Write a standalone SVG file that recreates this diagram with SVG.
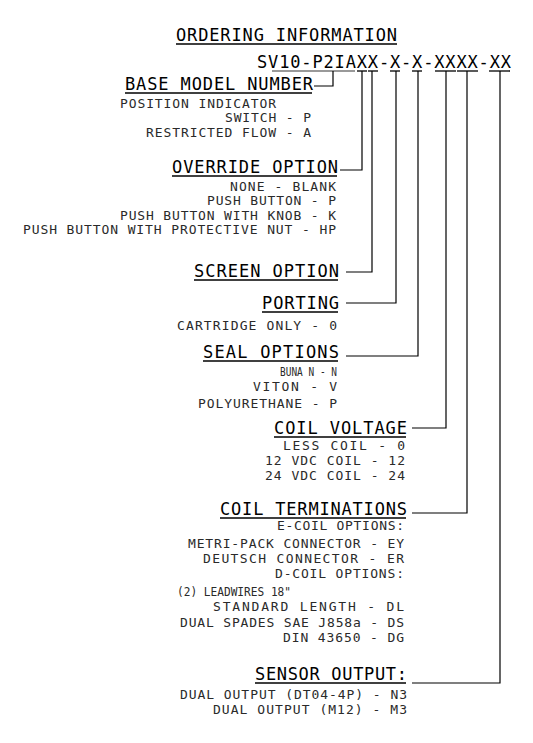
<svg xmlns="http://www.w3.org/2000/svg" width="533" height="743" viewBox="0 0 533 743">
<style>
text{font-family:"DejaVu Sans Mono","Liberation Mono",monospace;}
.h{font-size:17px;fill:#000;}
.b{font-size:13px;fill:#2a2a2a;}
.u{stroke:#000;stroke-width:1.3;fill:none;}
.ug{stroke:#777;stroke-width:1.3;fill:none;}
.c{stroke:#000;stroke-width:1.2;fill:none;}
</style>
<rect width="533" height="743" fill="#fff"/>
<g id="title">
<text class="h" x="176" y="41" textLength="221" lengthAdjust="spacing">ORDERING INFORMATION</text>
<line class="u" x1="176" y1="44" x2="397" y2="44"/>
</g>
<g id="part-number">
<text class="h" x="257" y="68" textLength="254" lengthAdjust="spacing">SV10-P2IAXX-X-X-XXXX-XX</text>
<line class="ug" x1="272" y1="71" x2="355" y2="71"/>
<line class="u" x1="357" y1="71" x2="367" y2="71"/>
<line class="u" x1="368" y1="71" x2="378" y2="71"/>
<line class="u" x1="390" y1="71" x2="400" y2="71"/>
<line class="u" x1="412" y1="71" x2="422" y2="71"/>
<line class="u" x1="435" y1="71" x2="456" y2="71"/>
<line class="u" x1="457" y1="71" x2="478" y2="71"/>
<line class="u" x1="489" y1="71" x2="510" y2="71"/>
</g>
<g id="base-model-number">
<text class="h" x="125" y="90" textLength="188" lengthAdjust="spacing">BASE MODEL NUMBER</text>
<line class="u" x1="125" y1="93" x2="312" y2="93"/>
<text class="b" x="120" y="108" textLength="156" lengthAdjust="spacing">POSITION INDICATOR</text>
<text class="b" x="225" y="122" textLength="86" lengthAdjust="spacing">SWITCH - P</text>
<text class="b" x="146" y="137" textLength="165" lengthAdjust="spacing">RESTRICTED FLOW - A</text>
</g>
<g id="override-option">
<text class="h" x="172" y="173" textLength="166" lengthAdjust="spacing">OVERRIDE OPTION</text>
<line class="u" x1="172" y1="176" x2="337" y2="176"/>
<text class="b" x="230" y="191" textLength="106" lengthAdjust="spacing">NONE - BLANK</text>
<text class="b" x="207" y="205" textLength="129" lengthAdjust="spacing">PUSH BUTTON - P</text>
<text class="b" x="120" y="219.5" textLength="216" lengthAdjust="spacing">PUSH BUTTON WITH KNOB - K</text>
<text class="b" x="23" y="234" textLength="313" lengthAdjust="spacing">PUSH BUTTON WITH PROTECTIVE NUT - HP</text>
</g>
<g id="screen-option">
<text class="h" x="194" y="277" textLength="145" lengthAdjust="spacing">SCREEN OPTION</text>
<line class="u" x1="194" y1="280" x2="338" y2="280"/>
</g>
<g id="porting">
<text class="h" x="262" y="309" textLength="77" lengthAdjust="spacing">PORTING</text>
<line class="u" x1="262" y1="312" x2="338" y2="312"/>
<text class="b" x="177" y="329.5" textLength="160" lengthAdjust="spacing">CARTRIDGE ONLY - 0</text>
</g>
<g id="seal-options">
<text class="h" x="203" y="358" textLength="136" lengthAdjust="spacing">SEAL OPTIONS</text>
<line class="u" x1="203" y1="361" x2="338" y2="361"/>
<text class="b" x="280" y="376" textLength="57" lengthAdjust="spacingAndGlyphs">BUNA N - N</text>
<text class="b" x="253" y="391" textLength="84" lengthAdjust="spacing">VITON - V</text>
<text class="b" x="198" y="408" textLength="139" lengthAdjust="spacing">POLYURETHANE - P</text>
</g>
<g id="coil-voltage">
<text class="h" x="274" y="434" textLength="133" lengthAdjust="spacing">COIL VOLTAGE</text>
<line class="u" x1="274" y1="437" x2="406" y2="437"/>
<text class="b" x="283" y="449.5" textLength="122" lengthAdjust="spacing">LESS COIL - 0</text>
<text class="b" x="265" y="464.5" textLength="140" lengthAdjust="spacing">12 VDC COIL - 12</text>
<text class="b" x="265" y="479.5" textLength="140" lengthAdjust="spacing">24 VDC COIL - 24</text>
</g>
<g id="coil-terminations">
<text class="h" x="220" y="515" textLength="187" lengthAdjust="spacing">COIL TERMINATIONS</text>
<line class="u" x1="220" y1="518" x2="406" y2="518"/>
<text class="b" x="277" y="530" textLength="127" lengthAdjust="spacing">E-COIL OPTIONS:</text>
<text class="b" x="188" y="548" textLength="216" lengthAdjust="spacing">METRI-PACK CONNECTOR - EY</text>
<text class="b" x="203" y="563" textLength="201" lengthAdjust="spacing">DEUTSCH CONNECTOR - ER</text>
<text class="b" x="275" y="578" textLength="129" lengthAdjust="spacing">D-COIL OPTIONS:</text>
<text class="b" x="177" y="596" textLength="114" lengthAdjust="spacingAndGlyphs">(2) LEADWIRES 18"</text>
<text class="b" x="213" y="611" textLength="191" lengthAdjust="spacing">STANDARD LENGTH - DL</text>
<text class="b" x="180" y="627" textLength="224" lengthAdjust="spacing">DUAL SPADES SAE J858a - DS</text>
<text class="b" x="283" y="642" textLength="121" lengthAdjust="spacing">DIN 43650 - DG</text>
</g>
<g id="sensor-output">
<text class="h" x="255" y="680" textLength="152" lengthAdjust="spacing">SENSOR OUTPUT:</text>
<line class="u" x1="255" y1="683" x2="406" y2="683"/>
<text class="b" x="180" y="698.5" textLength="227" lengthAdjust="spacing">DUAL OUTPUT (DT04-4P) - N3</text>
<text class="b" x="213" y="714" textLength="194" lengthAdjust="spacing">DUAL OUTPUT (M12) - M3</text>
</g>
<g id="connectors">
<polyline class="c" points="314,86 333,86 333,71"/>
<polyline class="c" points="340,170 362,170 362,71"/>
<polyline class="c" points="346,272 372,272 372,71"/>
<polyline class="c" points="346,303 396,303 396,71"/>
<polyline class="c" points="346,356 418,356 418,71"/>
<polyline class="c" points="412,428 446,428 446,71"/>
<polyline class="c" points="412,513 467,513 467,71"/>
<polyline class="c" points="412,683 500,683 500,71"/>
</g>
</svg>
